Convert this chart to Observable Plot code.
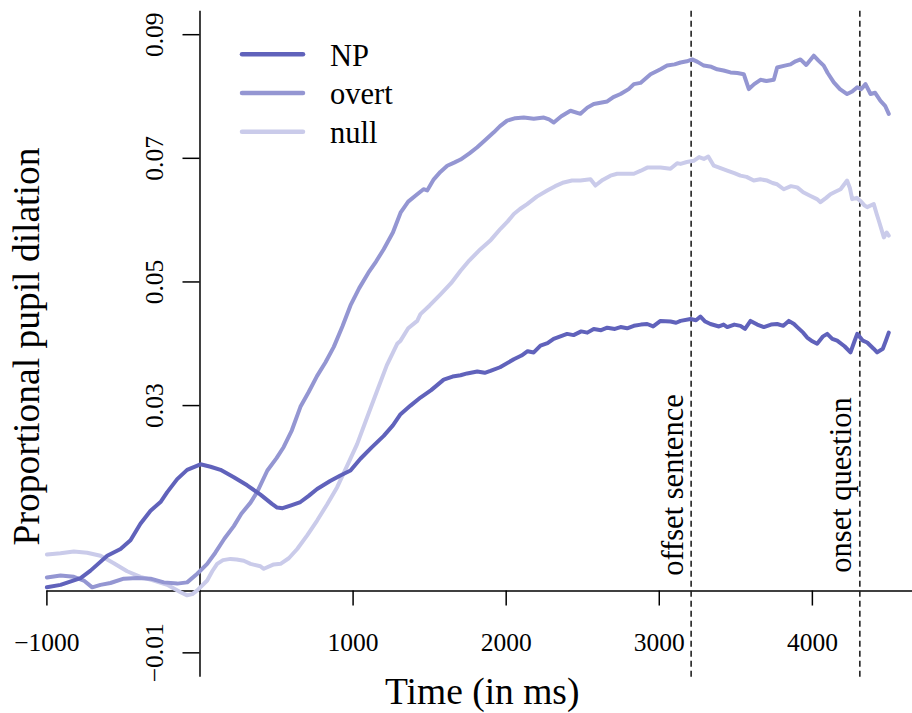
<!DOCTYPE html>
<html><head><meta charset="utf-8">
<script src="https://cdn.jsdelivr.net/npm/d3@7"></script>
<script src="https://cdn.jsdelivr.net/npm/@observablehq/plot@0.6"></script>
<style>body{margin:0;background:#fff;} #chart{width:912px;height:713px;}</style>
</head><body><div id="chart"></div>
<script>
// ---- data ----
const seriesNames = ["NP", "overt", "null"];
const seriesColors = ["#6062bb", "#9496d2", "#cacbea"];

const npSeries = [
[-1000,0.0006],[-911,0.001],[-780,0.0021],[-715,0.0033],[-606,0.0057],[-519,0.0068],[-454,0.0082],
[-389,0.0109],[-323,0.013],[-258,0.0144],[-214,0.016],[-149,0.0181],[-84,0.0196],[3,0.0205],[69,0.0201],
[134,0.0196],[221,0.0184],[308,0.0171],[395,0.0156],[470,0.0141],[504,0.0135],[540,0.0134],[600,0.0139],
[656,0.0144],[710,0.0154],[765,0.0165],[850,0.0178],[917,0.0187],[983,0.0195],[1048,0.0214],[1120,0.0232],
[1200,0.0251],[1260,0.0268],[1310,0.0286],[1375,0.030],[1440,0.0313],[1510,0.0325],[1592,0.0342],
[1650,0.0347],[1702,0.0349],[1745,0.0352],[1811,0.0355],[1860,0.0353],[1897,0.0356],[1960,0.0362],
[2050,0.0375],[2100,0.0381],[2140,0.0388],[2180,0.0386],[2224,0.0397],[2270,0.0401],[2310,0.0408],
[2398,0.0416],[2440,0.0414],[2490,0.042],[2530,0.0418],[2572,0.0424],[2620,0.0422],[2660,0.0426],
[2710,0.0424],[2747,0.0427],[2790,0.0425],[2834,0.0429],[2880,0.0431],[2921,0.0432],[2960,0.0428],
[3008,0.0437],[3073,0.0436],[3110,0.0434],[3139,0.0437],[3204,0.044],[3240,0.0438],[3269,0.0444],
[3300,0.0436],[3334,0.0432],[3390,0.0428],[3420,0.0431],[3444,0.0427],[3490,0.0431],[3530,0.0429],
[3560,0.0424],[3596,0.0437],[3640,0.0431],[3683,0.0427],[3730,0.0431],[3770,0.0432],[3810,0.0429],
[3846,0.0437],[3880,0.0432],[3901,0.0427],[3940,0.0418],[3966,0.041],[4000,0.0404],[4031,0.040],
[4070,0.0412],[4097,0.0416],[4130,0.0408],[4162,0.0405],[4210,0.0396],[4249,0.0386],[4275,0.0404],
[4293,0.0416],[4330,0.0405],[4358,0.0402],[4400,0.0392],[4423,0.0386],[4460,0.0392],[4480,0.0405],
[4499,0.0418]
];

const overtSeries = [
[-1000,0.0022],[-911,0.0025],[-824,0.0023],[-759,0.0017],[-704,0.0006],[-650,0.001],[-585,0.0013],
[-498,0.002],[-410,0.0021],[-323,0.002],[-236,0.0014],[-149,0.0012],[-84,0.0014],[-18,0.0028],[47,0.0044],
[100,0.0062],[160,0.0085],[221,0.0105],[270,0.0125],[330,0.0143],[373,0.016],[440,0.0195],[500,0.0215],
[547,0.0233],[600,0.026],[656,0.0298],[710,0.0322],[765,0.0348],[820,0.037],[874,0.0395],[930,0.0428],
[983,0.0462],[1040,0.049],[1100,0.0515],[1150,0.0533],[1200,0.0553],[1260,0.058],[1310,0.0612],
[1360,0.063],[1419,0.0642],[1460,0.0650],[1484,0.0648],[1527,0.0666],[1570,0.0678],[1615,0.0688],
[1660,0.0693],[1702,0.0698],[1760,0.0708],[1811,0.0718],[1860,0.0729],[1919,0.0742],[1960,0.0752],
[2006,0.0761],[2060,0.0765],[2115,0.0766],[2180,0.0764],[2246,0.0766],[2280,0.0763],[2311,0.0758],
[2360,0.0768],[2420,0.0777],[2485,0.0772],[2530,0.0782],[2572,0.0788],[2616,0.079],[2660,0.0792],
[2700,0.0799],[2747,0.0804],[2800,0.0812],[2834,0.082],[2877,0.0822],[2943,0.0836],[3008,0.0844],
[3051,0.085],[3100,0.0852],[3139,0.0855],[3180,0.0857],[3215,0.086],[3250,0.0856],[3291,0.085],
[3340,0.0848],[3378,0.0844],[3420,0.0842],[3465,0.0839],[3510,0.0838],[3552,0.0836],[3585,0.0812],
[3620,0.082],[3661,0.0827],[3700,0.0825],[3748,0.0827],[3770,0.0847],[3820,0.085],[3857,0.0852],
[3890,0.0857],[3922,0.086],[3960,0.0851],[4009,0.0866],[4040,0.0858],[4074,0.085],[4100,0.0838],
[4140,0.0823],[4180,0.0812],[4227,0.0804],[4260,0.0808],[4293,0.0815],[4320,0.0812],[4347,0.082],
[4380,0.0804],[4410,0.0806],[4445,0.0793],[4475,0.0785],[4499,0.0772]
];

const nullSeries = [
[-1000,0.0059],[-911,0.0061],[-824,0.0064],[-737,0.0062],[-650,0.0057],[-563,0.0045],[-476,0.0032],
[-389,0.0023],[-302,0.0017],[-214,0.001],[-127,-0.0002],[-84,-0.0007],[-50,-0.0005],[-18,0.0001],
[47,0.0017],[80,0.0032],[112,0.0044],[150,0.005],[199,0.0052],[240,0.0051],[286,0.0049],[330,0.0044],
[395,0.004],[417,0.0036],[482,0.0043],[526,0.0044],[580,0.0053],[635,0.0068],[700,0.009],[765,0.0114],
[830,0.014],[896,0.0168],[960,0.0202],[1027,0.0238],[1090,0.028],[1157,0.0324],[1220,0.0365],
[1288,0.040],[1310,0.0405],[1360,0.0425],[1419,0.0437],[1440,0.0448],[1500,0.0462],[1571,0.048],
[1640,0.0498],[1702,0.0518],[1760,0.0535],[1832,0.0553],[1900,0.0568],[1963,0.0586],[2010,0.0598],
[2050,0.061],[2090,0.0618],[2137,0.0626],[2200,0.0638],[2268,0.0648],[2320,0.0655],[2376,0.0661],
[2430,0.0664],[2485,0.0664],[2551,0.0666],[2583,0.0656],[2630,0.0665],[2681,0.0672],[2725,0.0675],
[2790,0.0675],[2834,0.0675],[2880,0.068],[2921,0.0685],[2964,0.0685],[3008,0.0685],[3073,0.0683],
[3117,0.0692],[3139,0.0691],[3180,0.0694],[3225,0.0696],[3260,0.0702],[3291,0.0699],[3320,0.0703],
[3356,0.0688],[3400,0.0684],[3444,0.068],[3490,0.0676],[3530,0.0672],[3570,0.067],[3617,0.0664],
[3660,0.0666],[3705,0.0664],[3740,0.066],[3770,0.0658],[3813,0.065],[3860,0.0655],[3901,0.0653],
[3940,0.0645],[3988,0.0639],[4030,0.0634],[4053,0.0629],[4090,0.0636],[4118,0.0642],[4150,0.0646],
[4184,0.065],[4227,0.0664],[4245,0.0652],[4260,0.0634],[4290,0.0636],[4314,0.0631],[4340,0.0624],
[4358,0.0621],[4401,0.0626],[4420,0.061],[4434,0.0599],[4467,0.0572],[4485,0.058],[4499,0.0575]
];

const xTicks = [-1000, 1000, 2000, 3000, 4000];
const yTicks = [-0.01, 0.03, 0.05, 0.07, 0.09];
const eventTimes = [3208, 4310];
const eventLabels = ["offset sentence", "onset question"];
const xDomain = [-1000, 4654];
const yDomain = [-0.01394, 0.0938];

// ---- build ----
const rows = [];
[[nullSeries, "null"], [overtSeries, "overt"], [npSeries, "NP"]].forEach(([s, name]) =>
  s.forEach(([t, v]) => rows.push({series: name, t, v})));
const events = eventTimes.map((t, i) => ({t, label: eventLabels[i]}));

const W = 912, H = 713, mL = 46.4, mR = 0, mT = 10.7, mB = 36.3;
const innerW = W - mL - mR, innerH = H - mT - mB;
const zeroDx = (0 - xDomain[0]) / (xDomain[1] - xDomain[0]) * innerW;       // y-axis at x = 0
const zeroDy = -(0 - yDomain[0]) / (yDomain[1] - yDomain[0]) * innerH;      // x-axis at y = 0
const serif = "'Liberation Serif', 'Times New Roman', Times, serif";
const fmtX = d3.format("d");
const fmtY = d3.format(".2f");

const plot = Plot.plot({
  width: W, height: H,
  marginLeft: mL, marginRight: mR, marginTop: mT, marginBottom: mB,
  style: {fontFamily: serif, background: "#fff", color: "#000", overflow: "visible"},
  x: {domain: xDomain},
  y: {domain: yDomain},
  color: {domain: seriesNames, range: seriesColors},
  marks: [
    Plot.ruleY([0], {stroke: "#000", strokeWidth: 1.5}),
    Plot.ruleX([0], {stroke: "#000", strokeWidth: 1.5}),
    Plot.axisX({ticks: xTicks, anchor: "bottom", dy: zeroDy, tickSize: 15, tickFormat: () => "", label: null, strokeWidth: 1.5}),
    Plot.axisY({ticks: yTicks, anchor: "left", dx: zeroDx, tickSize: 17, tickFormat: () => "", label: null, strokeWidth: 1.5}),
    Plot.text(xTicks, {x: d => d, y: () => 0, text: d => fmtX(d), lineAnchor: "bottom", dy: 59.5, fontSize: 25.5, fill: "#000"}),
    Plot.text(yTicks, {x: () => 0, y: d => d, text: d => fmtY(d), rotate: -90, textAnchor: "middle", lineAnchor: "bottom", dx: -36.5, fontSize: 25.5, fill: "#000"}),
    Plot.ruleX(events, {x: "t", stroke: "#222", strokeWidth: 1.6, strokeDasharray: "6,4"}),
    Plot.text(events, {x: "t", y: () => 0, text: "label", rotate: -90, textAnchor: "middle", lineAnchor: "bottom", dx: -8.5, dy: -106, fontSize: 30.5, fill: "#000"}),
    Plot.line(rows, {x: "t", y: "v", z: "series", stroke: "series", strokeWidth: 4, strokeLinejoin: "round", strokeLinecap: "round"}),
    Plot.text(["Time (in ms)"], {frameAnchor: "bottom", lineAnchor: "bottom", dx: 2.5, dy: 26.3, fontSize: 37.5, fill: "#000"}),
    Plot.text(["Proportional pupil dilation"], {frameAnchor: "left", rotate: -90, textAnchor: "middle", lineAnchor: "bottom", dx: -8.4, dy: 2.3, fontSize: 37.5, fill: "#000"})
  ]
});

// legend inside the plot area (top-left)
const svg = d3.select(plot);
const lg = svg.append("g").attr("font-family", serif).attr("font-size", 30.5).attr("text-anchor", "start");
seriesNames.forEach((name, i) => {
  const ly = 54.3 + i * 38.7;
  lg.append("line").attr("x1", 242).attr("x2", 303).attr("y1", ly).attr("y2", ly)
    .attr("stroke", seriesColors[i]).attr("stroke-width", 4.5).attr("stroke-linecap", "round");
  lg.append("text").attr("x", 330).attr("y", ly + 11.4).attr("fill", "#000").attr("text-anchor", "start").text(name);
});

document.getElementById("chart").appendChild(plot);
</script>
</body></html>
